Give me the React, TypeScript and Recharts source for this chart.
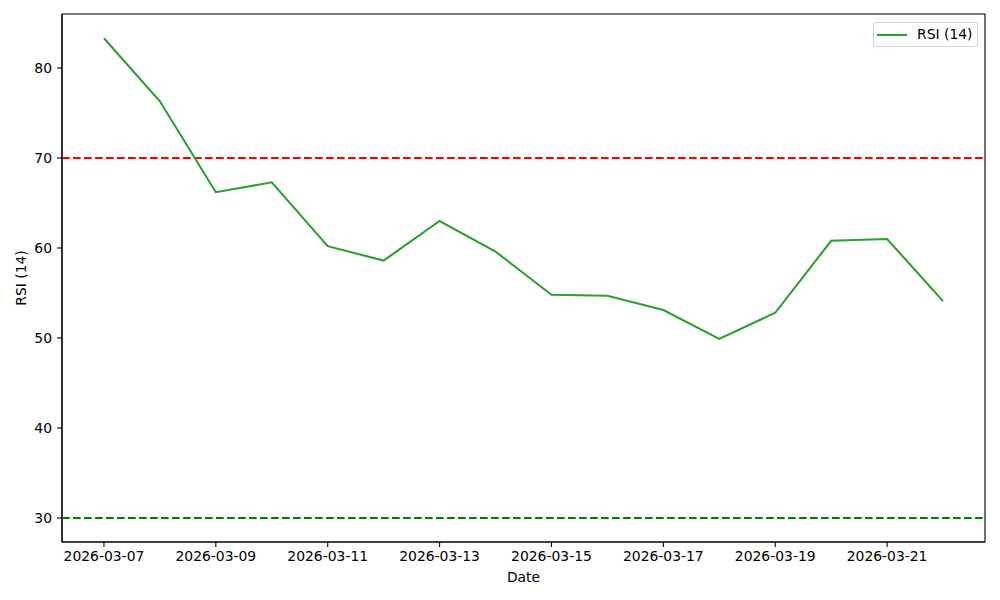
import React from 'react';
import { LineChart, Line, XAxis, YAxis, ReferenceLine, ReferenceArea, Label } from 'recharts';

const dates = [
  '2026-03-07', '2026-03-08', '2026-03-09', '2026-03-10', '2026-03-11', '2026-03-12', '2026-03-13', '2026-03-14',
  '2026-03-15', '2026-03-16', '2026-03-17', '2026-03-18', '2026-03-19', '2026-03-20', '2026-03-21', '2026-03-22',
];
const rsi = [83.3, 76.3, 66.2, 67.3, 60.2, 58.6, 63.0, 59.6, 54.8, 54.7, 53.1, 49.9, 52.8, 60.8, 61.0, 54.1];
const xTickLabels = ['2026-03-07', '2026-03-09', '2026-03-11', '2026-03-13', '2026-03-15', '2026-03-17', '2026-03-19', '2026-03-21'];
const yTicks = [30, 40, 50, 60, 70, 80];
const overbought = 70;
const oversold = 30;

const DAY = 86400000;
const toDay = (d: string) => Date.parse(d + 'T00:00:00Z') / DAY;
const fmt = (t: number) => new Date(Math.round(t) * DAY).toISOString().slice(0, 10);

const data = dates.map((d, i) => ({ t: toDay(d), rsi: rsi[i] }));
const xMin = toDay(dates[0]) - 0.75;
const xMax = toDay(dates[dates.length - 1]) + 0.75;
const yMin = 27.33;
const yMax = 86.0;

const font = { fontFamily: 'DejaVu Sans', fontSize: 13.9, fill: '#000' };

// matplotlib-style legend box, upper right
function RsiLegend() {
  return (
    <div
      style={{
        position: 'absolute',
        left: 873,
        top: 22,
        width: 105,
        height: 25,
        boxSizing: 'border-box',
        border: '1px solid rgba(204,204,204,0.8)',
        borderRadius: 3,
        background: 'rgba(255,255,255,0.8)',
        display: 'flex',
        alignItems: 'center',
        fontFamily: 'DejaVu Sans',
        fontSize: 13.9,
        color: '#000',
      }}
    >
      <svg width={30} height={4} style={{ marginLeft: 3 }}>
        <line x1={0} y1={2} x2={30} y2={2} stroke="#2ca02c" strokeWidth={2.08} />
      </svg>
      <span style={{ marginLeft: 10, lineHeight: 1 }}>RSI (14)</span>
    </div>
  );
}

export default function App() {
  return (
    <div style={{ position: 'absolute', left: 0, top: 0, width: 1000, height: 600, background: '#fff' }}>
      <LineChart width={1000} height={600} data={data} margin={{ top: 14, right: 15, bottom: 0, left: 0 }}>
        <XAxis
          dataKey="t"
          type="number"
          domain={[xMin, xMax]}
          ticks={xTickLabels.map(toDay)}
          tickFormatter={fmt}
          interval={0}
          allowDataOverflow
          height={58}
          tickSize={5}
          tickMargin={4}
          stroke="#000"
          strokeWidth={1.1}
          tick={font}
        >
          <Label value="Date" position="center" dy={6} style={font} />
        </XAxis>
        <YAxis
          type="number"
          domain={[yMin, yMax]}
          ticks={yTicks}
          allowDataOverflow
          width={62}
          tickSize={5}
          tickMargin={5}
          stroke="#000"
          strokeWidth={1.1}
          tick={font}
        >
          <Label value="RSI (14)" angle={-90} position="center" dx={-9.5} style={font} />
        </YAxis>
        <ReferenceArea x1={xMin} x2={xMax} y1={yMin} y2={yMax} fill="none" stroke="#000" strokeWidth={1.1} />
        <ReferenceLine y={overbought} stroke="#ff0000" strokeWidth={2.08} strokeDasharray="7.7 3.3" />
        <ReferenceLine y={oversold} stroke="#008000" strokeWidth={2.08} strokeDasharray="7.7 3.3" />
        <Line
          type="linear"
          dataKey="rsi"
          name="RSI (14)"
          stroke="#2ca02c"
          strokeWidth={2.08}
          dot={false}
          isAnimationActive={false}
        />
      </LineChart>
      <RsiLegend />
    </div>
  );
}
